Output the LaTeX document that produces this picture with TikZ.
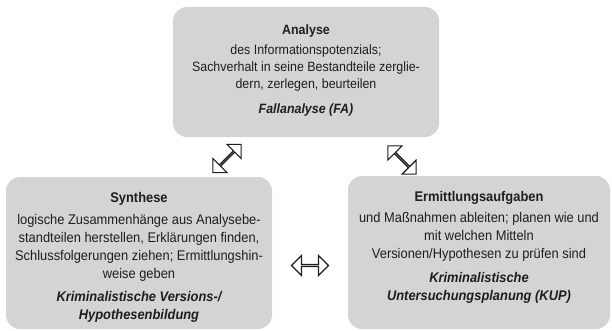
\documentclass[tikz,border=0pt]{standalone}
\usepackage{fontspec}
\setmainfont[FakeStretch=0.92]{Liberation Sans}
\usetikzlibrary{positioning,shapes.arrows}
\definecolor{boxgray}{RGB}{212,212,212}
\definecolor{inkgray}{RGB}{30,30,30}
\tikzset{
  box/.style={fill=boxgray, rounded corners=14pt, inner sep=0pt},
  boxtext/.style={inner sep=0pt, align=center, text=inkgray, font=\fontsize{14}{18}\selectfont},
  twoway/.style={double arrow, draw=inkgray, fill=white, line width=1.2pt, inner sep=0pt,
    minimum width=20pt, minimum height=37pt, double arrow head extend=6pt}
}
\begin{document}
\begin{tikzpicture}[x=1pt, y=-1pt]
        \useasboundingbox (0,0) rectangle (612,330);
        % boxes
        \node [box, minimum width=266pt, minimum height=130pt] (0) at (306,72) {};
        \node [box, minimum width=266pt, minimum height=152pt] (1) at (139,253) {};
        \node [box, minimum width=262pt, minimum height=153pt] (2) at (479,252.5) {};
        % texts
        \node [boxtext, font=\fontsize{13.5}{17}\selectfont, below=18pt of 0.north] (3) {{\bfseries Analyse}\\[3pt]
            des Informationspotenzials;\\ Sachverhalt in seine Bestandteile zerglie-\\ dern, zerlegen, beurteilen\\[8pt]
            {\bfseries\itshape Fallanalyse (FA)}};
        \node [boxtext, below=15pt of 1.north] (4) {{\bfseries Synthese}\\[4pt]
            logische Zusammenhänge aus Analysebe-\\ standteilen herstellen, Erklärungen finden,\\
            Schlussfolgerungen ziehen; Ermittlungshin-\\ weise geben\\[5pt]
            {\bfseries\itshape Kriminalistische Versions-/}\\ {\bfseries\itshape Hypothesenbildung}};
        \node [boxtext, below=15pt of 2.north] (5) {{\bfseries Ermittlungsaufgaben}\\[3pt]
            und Maßnahmen ableiten; planen wie und\\ mit welchen Mitteln\\ Versionen/Hypothesen zu prüfen sind\\[6pt]
            {\bfseries\itshape Kriminalistische}\\ {\bfseries\itshape Untersuchungsplanung (KUP)}};
        % arrows
        \node [twoway, minimum height=40pt, rotate=45] (6) at (227,158.5) {};
        \node [twoway, minimum height=40pt, rotate=-45] (7) at (402,160) {};
        \node [twoway] (8) at (310,265.5) {};
\end{tikzpicture}
\end{document}
